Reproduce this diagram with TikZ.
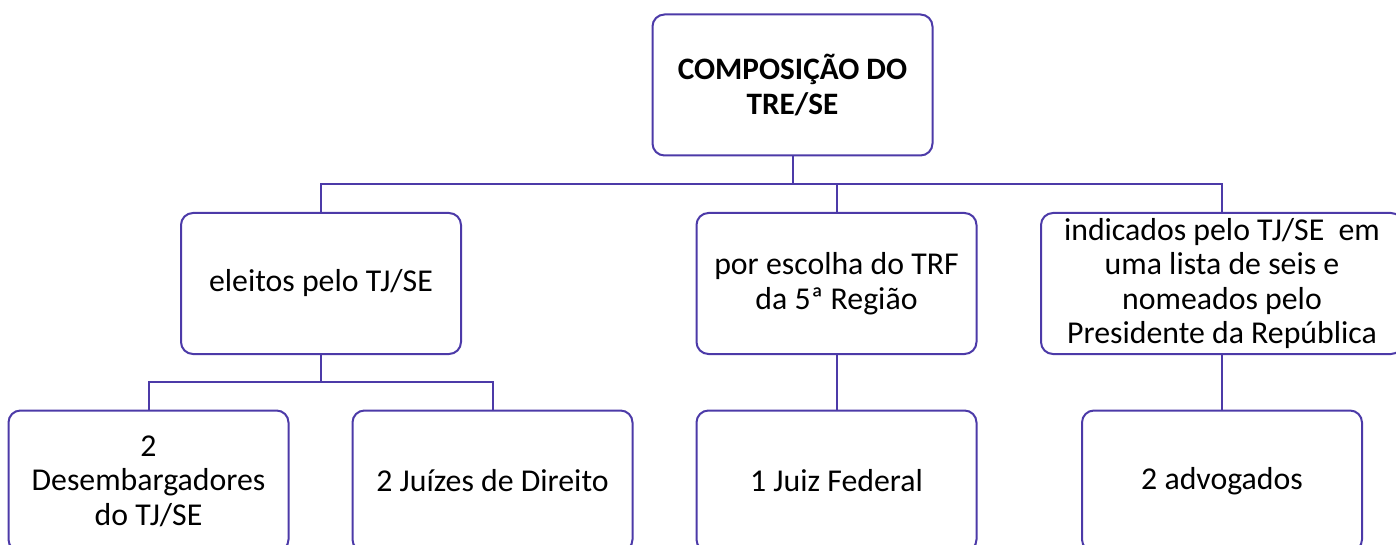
\documentclass[tikz,border=0pt]{standalone}
\usepackage{fontspec}
\setmainfont{Carlito}
\usepackage{tikz}
\usetikzlibrary{positioning}

\definecolor{orgline}{RGB}{76,58,168}

\tikzset{
  orgbox/.style={draw=orgline, line width=1pt, rounded corners=6pt, align=center,
    minimum width=140pt, minimum height=70.5pt, inner sep=2pt,
    font=\fontsize{15.9}{17.3}\selectfont},
  link/.style={draw=orgline, line width=1pt}
}

\begin{document}
\begin{tikzpicture}[x=0.5pt,y=0.5pt,yscale=-1,xscale=1]
\useasboundingbox (0,0) rectangle (1396,545);
\clip (0,0) rectangle (1396,545);

%Shape: Rounded Rectangle [top]
\node[orgbox, font=\fontsize{15.6}{17.5}\selectfont\bfseries] (topo) at (792.5,85) {COMPOSIÇÃO DO\\TRE/SE};

%Shape: Rounded Rectangle [row 1]
\node[orgbox] (eleitos) at (321,283.5) {eleitos pelo TJ/SE};
\node[orgbox] (escolha) at (836.5,283.5) {por escolha do TRF\\da 5ª Região};
\node[orgbox, minimum width=181pt] (indicados) at (1222,283.5) {indicados pelo TJ/SE\ \ em\\uma lista de seis e\\nomeados pelo\\Presidente da República};

%Shape: Rounded Rectangle [row 2]
\node[orgbox] (desemb) at (148.5,481) {2\\Desembargadores\\do TJ/SE};
\node[orgbox] (juizes) at (492.5,481) {2 Juízes de Direito};
\node[orgbox] (federal) at (836.5,481) {1 Juiz Federal};
\node[orgbox] (advog) at (1222,481) {2 advogados};

% Connection
\coordinate (bus) at (0,184);
\coordinate (subbus) at (0,382);
\draw[link] (topo.south) -- (topo.south |- bus);
\draw[link] (eleitos.north) |- (indicados.north |- bus) -- (indicados.north);
\draw[link] (escolha.north) -- (escolha.north |- bus);
\draw[link] (eleitos.south) -- (eleitos.south |- subbus);
\draw[link] (desemb.north) |- (juizes.north |- subbus) -- (juizes.north);
\draw[link] (escolha.south) -- (federal.north);
\draw[link] (indicados.south) -- (advog.north);

\end{tikzpicture}
\end{document}
